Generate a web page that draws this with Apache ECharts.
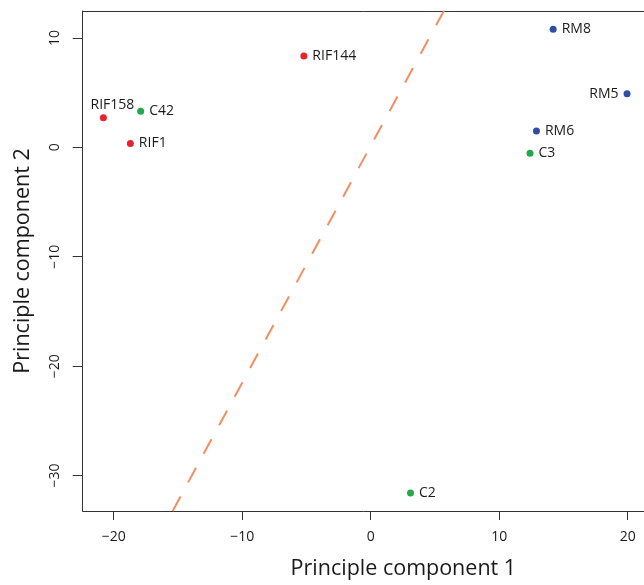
<!DOCTYPE html>
<html>
<head>
<meta charset="utf-8">
<script src="https://cdn.jsdelivr.net/npm/echarts@6/dist/echarts.min.js"></script>
<style>
html,body{margin:0;padding:0;background:#fff;}
#chart{width:644px;height:585px;}
</style>
</head>
<body>
<div id="chart"></div>
<script>
// ---- data ----
var sampleNames = ['RIF158', 'C42', 'RIF1', 'RIF144', 'RM8', 'RM5', 'RM6', 'C3', 'C2'];
var pc1 = [-20.8, -17.9, -18.7, -5.2, 14.2, 19.95, 12.9, 12.4, 3.1];
var pc2 = [2.7, 3.3, 0.35, 8.35, 10.8, 4.9, 1.5, -0.55, -31.6];
var groups = ['RIF', 'C', 'RIF', 'RIF', 'RM', 'RM', 'RM', 'C', 'C'];
var groupOrder = ['RIF', 'C', 'RM'];
var xTicks = [-20, -10, 0, 10, 20];
var yTicks = [-30, -20, -10, 0, 10];
// separating line y = slope * x + intercept
var lineSlope = 2.165;
var lineIntercept = 0.13;
var lineXs = [-15.41, 8];

// ---- styles ----
var groupColors = { RIF: '#e8222a', C: '#25a84a', RM: '#2f4ea3' };
var labelPlacement = {
  RIF158: { position: 'top', distance: 2, offset: [9, 0] },
  RM5: { position: 'left', distance: 5 }
};
var FONT = 'Open Sans';
var TEXT = '#1a1a1a';

var scatterSeries = groupOrder.map(function (g) {
  var data = [];
  sampleNames.forEach(function (n, i) {
    if (groups[i] !== g) return;
    var p = labelPlacement[n] || { position: 'right', distance: 5 };
    data.push({
      name: n,
      value: [pc1[i], pc2[i]],
      label: { position: p.position, distance: p.distance, offset: p.offset || [0, 0] }
    });
  });
  return {
    type: 'scatter',
    name: g,
    data: data,
    symbol: 'circle',
    symbolSize: 7,
    itemStyle: { color: groupColors[g], opacity: 1 },
    label: {
      show: true,
      formatter: '{b}',
      color: TEXT,
      fontFamily: FONT,
      fontSize: 14
    },
    z: 3
  };
});

var lineData = lineXs.map(function (x) { return [x, lineSlope * x + lineIntercept]; });

var axisLineStyle = { color: '#333', width: 1 };

var option = {
  animation: false,
  grid: { left: 82.7, top: 11, right: 0, bottom: 72.3 },
  xAxis: [{
    type: 'value',
    min: -22.41, max: 21.27,
    splitLine: { show: false },
    axisLine: { show: true, onZero: false, lineStyle: axisLineStyle },
    axisTick: { show: true, length: 9, lineStyle: axisLineStyle, customValues: xTicks },
    axisLabel: { customValues: xTicks, color: TEXT, fontFamily: FONT, fontSize: 14, margin: 19,
      formatter: function (v) { return String(v).replace('-', '\u2212'); } },
    name: 'Principle component 1',
    nameLocation: 'middle',
    nameGap: 47,
    nameTextStyle: { color: TEXT, fontFamily: FONT, fontSize: 21.5, padding: [0, 0, 0, 80] }
  }, {
    type: 'value',
    position: 'top',
    min: -22.41, max: 21.27,
    splitLine: { show: false },
    axisLine: { show: true, onZero: false, lineStyle: axisLineStyle },
    axisTick: { show: false },
    axisLabel: { show: false }
  }],
  yAxis: {
    type: 'value',
    min: -33.24, max: 12.46,
    splitLine: { show: false },
    axisLine: { show: true, onZero: false, lineStyle: axisLineStyle },
    axisTick: { show: true, length: 10, lineStyle: axisLineStyle, customValues: yTicks },
    axisLabel: { customValues: yTicks, rotate: 90, color: TEXT, fontFamily: FONT, fontSize: 14, margin: 21,
      formatter: function (v) { return String(v).replace('-', '\u2212'); } },
    name: 'Principle component 2',
    nameLocation: 'middle',
    nameGap: 49,
    nameTextStyle: { color: TEXT, fontFamily: FONT, fontSize: 21.5 }
  },
  series: scatterSeries.concat([{
    type: 'line',
    data: lineData,
    symbol: 'none',
    clip: true,
    lineStyle: { color: '#f58d62', width: 2, type: [16.5, 16] },
    z: 2
  }])
};

var chart = echarts.init(document.getElementById('chart'), null, { renderer: 'canvas' });
chart.setOption(option);
</script>
</body>
</html>
